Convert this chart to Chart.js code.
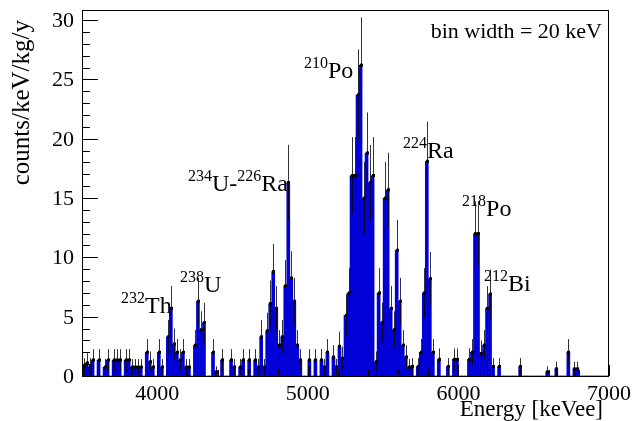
<!DOCTYPE html>
<html>
<head>
<meta charset="utf-8">
<script src="https://cdn.jsdelivr.net/npm/chart.js@4/dist/chart.umd.min.js"></script>
<style>
  html, body { margin: 0; padding: 0; background: #fff; }
  canvas { display: block; }
</style>
</head>
<body>
<canvas id="spectrum" width="633" height="421"></canvas>
<script>
// ── Data ─────────────────────────────────────────────────────────────────────
const BIN_LO    = 3500;   // keVee, low edge of first bin
const BIN_WIDTH = 20;     // keVee

// counts/keV/kg/y per 20 keV bin, 3500 → 7000 keVee (175 bins)
const BIN_VALUES = [
  0.8, 1.1, 0.8, 1.35, 0, 1.35, 0, 0.75, 1.35, 0,
  1.35, 1.35, 1.35, 0, 1.35, 1.35, 0.75, 0.75, 0.75, 0.75,
  0, 2.0, 1.2, 0.75, 0, 2.0, 0.75, 0, 3.3, 5.7,
  2.7, 2.0, 1.35, 2.0, 0.75, 0.75, 0, 2.6, 6.3, 3.9,
  4.5, 0, 0, 2.0, 0.35, 0, 1.35, 0, 0, 1.35,
  0.75, 0, 0.75, 1.35, 0, 1.35, 0, 1.35, 0.75, 3.3,
  0.75, 3.8, 6.1, 8.8, 5.7, 2.6, 3.3, 7.6, 16.3, 8.25,
  6.3, 2.6, 1.35, 0, 0, 1.35, 0, 1.35, 0, 1.35,
  0.75, 2.0, 0, 1.6, 0.75, 2.5, 1.5, 5.1, 7.0, 16.9,
  16.9, 23.7, 26.2, 15.0, 18.8, 16.3, 16.9, 1.2, 7.0, 4.5,
  15.0, 15.7, 5.7, 3.9, 10.6, 6.3, 2.6, 1.6, 0.75, 0.8,
  0, 0.8, 2.0, 7.0, 18.1, 8.2, 2.0, 0, 1.4, 0,
  0, 0.8, 0, 1.4, 1.4, 0, 0, 0, 1.4, 2.0,
  12.0, 12.0, 1.9, 2.6, 5.7, 6.9, 0.8, 0, 0.8, 0,
  0, 0, 0, 0, 0, 0.8, 0, 0, 0, 0,
  0, 0, 0, 0, 0.35, 0, 0, 0.6, 0, 0,
  0, 2.0, 0, 0.6, 0.6, 0, 0, 0, 0, 0,
  0, 0, 0, 0, 0,
];

// statistical error: sqrt(sum of weights^2) with a per-count weight of ~0.62
const COUNT_WEIGHT = 0.62;

const X_MIN = 3500, X_MAX = 7000;
const X_MAJOR = [4000, 5000, 6000, 7000];
const X_MINOR_STEP = 200;
const Y_MIN = 0, Y_MAX = 30.85;
const Y_MAJOR = [0, 5, 10, 15, 20, 25, 30];
const Y_MINOR_STEP = 1;

const X_TITLE = "Energy [keVee]";
const Y_TITLE = "counts/keV/kg/y";
const STATS_TEXT = "bin width = 20 keV";

// nuclide tags: [superscript, symbol] pairs, anchored at (energy, value) of the baseline
const PEAK_LABELS = [
  { parts: [["232", "Th"]],                e: 3759, y: 5.3  },
  { parts: [["238", "U"]],                 e: 4151, y: 7.1  },
  { parts: [["234", "U-"], ["226", "Ra"]], e: 4204, y: 15.6 },
  { parts: [["210", "Po"]],                e: 4974, y: 25.1 },
  { parts: [["224", "Ra"]],                e: 5632, y: 18.4 },
  { parts: [["218", "Po"]],                e: 6024, y: 13.5 },
  { parts: [["212", "Bi"]],                e: 6170, y: 7.2  },
];

// ── Style ────────────────────────────────────────────────────────────────────
const FONT = "'Liberation Serif', 'DejaVu Serif', serif";
const FILL = "rgb(0,0,215)";
const ERR_COLOR = "rgba(0,0,0,0.8)";

// ── Plugin: ROOT-like frame, ticks, errors and labels ───────────────────────
const rootStyle = {
  id: "rootStyle",
  afterDatasetsDraw(chart) {
    const { ctx, chartArea: a, scales: { x, y } } = chart;
    ctx.save();
    ctx.beginPath();
    ctx.rect(a.left, a.top, a.right - a.left, a.bottom - a.top);
    ctx.clip();
    ctx.strokeStyle = ERR_COLOR;
    ctx.fillStyle = "#000";
    ctx.lineWidth = 1;
    BIN_VALUES.forEach((v, i) => {
      if (v <= 0) return;
      const lo = BIN_LO + i * BIN_WIDTH;
      const err = Math.sqrt(v * COUNT_WEIGHT);
      const xl = x.getPixelForValue(lo);
      const xr = x.getPixelForValue(lo + BIN_WIDTH);
      const xc = Math.round((xl + xr) / 2) + 0.5;
      const yv = y.getPixelForValue(v);
      const y1 = y.getPixelForValue(v + err);
      const y2 = y.getPixelForValue(Math.max(0, v - err));
      ctx.beginPath();
      ctx.moveTo(xc, y1);
      ctx.lineTo(xc, y2);
      ctx.moveTo(xl, Math.round(yv) + 0.5);
      ctx.lineTo(xr, Math.round(yv) + 0.5);
      ctx.stroke();
      ctx.fillRect(xc - 1.5, yv - 1.5, 3, 3);
    });
    ctx.restore();
  },
  afterDraw(chart) {
    const { ctx, chartArea: a, scales: { x, y } } = chart;
    ctx.save();
    ctx.strokeStyle = "#000";
    ctx.fillStyle = "#000";
    ctx.lineWidth = 1;

    // frame
    ctx.strokeRect(a.left + 0.5, a.top + 0.5, a.right - a.left - 1, a.bottom - a.top);

    // x ticks (inward)
    ctx.beginPath();
    for (let e = X_MIN + X_MINOR_STEP / 2; e < X_MAX; e += X_MINOR_STEP) {
      const px = Math.round(x.getPixelForValue(e)) + 0.5;
      ctx.moveTo(px, a.bottom);
      ctx.lineTo(px, a.bottom - 6);
    }
    X_MAJOR.forEach(e => {
      const px = Math.round(x.getPixelForValue(e)) + 0.5;
      ctx.moveTo(px, a.bottom);
      ctx.lineTo(px, a.bottom - 11);
    });
    // y ticks (inward)
    for (let v = Y_MIN; v <= Y_MAX; v += Y_MINOR_STEP) {
      const py = Math.round(y.getPixelForValue(v)) + 0.5;
      const len = Y_MAJOR.includes(v) ? 16 : 8;
      ctx.moveTo(a.left, py);
      ctx.lineTo(a.left + len, py);
    }
    ctx.stroke();

    // tick labels
    ctx.font = `22px ${FONT}`;
    ctx.textAlign = "center";
    ctx.textBaseline = "alphabetic";
    X_MAJOR.forEach(e => ctx.fillText(String(e), x.getPixelForValue(e), 400));
    ctx.textAlign = "right";
    Y_MAJOR.forEach(v => ctx.fillText(String(v), 74, y.getPixelForValue(v) + 7));

    // axis titles
    ctx.font = `23px ${FONT}`;
    ctx.fillText(X_TITLE, 603, 416);
    ctx.save();
    ctx.font = `25px ${FONT}`;
    ctx.translate(29, 20);
    ctx.rotate(-Math.PI / 2);
    ctx.textAlign = "right";
    ctx.fillText(Y_TITLE, 0, 0);
    ctx.restore();

    // stats box text
    ctx.font = `22px ${FONT}`;
    ctx.textAlign = "right";
    ctx.fillText(STATS_TEXT, 602, 38);

    // nuclide labels
    ctx.textAlign = "left";
    PEAK_LABELS.forEach(lab => {
      let px = x.getPixelForValue(lab.e);
      const py = y.getPixelForValue(lab.y);
      lab.parts.forEach(([sup, sym]) => {
        ctx.font = `16px ${FONT}`;
        ctx.fillText(sup, px, py - 10);
        px += ctx.measureText(sup).width;
        ctx.font = `24px ${FONT}`;
        ctx.fillText(sym, px, py);
        px += ctx.measureText(sym).width;
      });
    });
    ctx.restore();
  },
};

// ── Chart ────────────────────────────────────────────────────────────────────
const points = BIN_VALUES.map((v, i) => ({ x: BIN_LO + (i + 0.5) * BIN_WIDTH, y: v }));

new Chart(document.getElementById("spectrum"), {
  type: "bar",
  data: {
    datasets: [{
      data: points,
      backgroundColor: FILL,
      borderWidth: 0,
      barPercentage: 1,
      categoryPercentage: 1,
    }],
  },
  options: {
    responsive: false,
    animation: false,
    devicePixelRatio: 1,
    layout: { padding: { left: 82, right: 24, top: 10, bottom: 45 } },
    plugins: { legend: { display: false }, tooltip: { enabled: false } },
    scales: {
      x: { type: "linear", min: X_MIN, max: X_MAX, offset: false, grid: { offset: false }, display: false },
      y: { min: Y_MIN, max: Y_MAX, display: false },
    },
  },
  plugins: [rootStyle],
});
</script>
</body>
</html>
